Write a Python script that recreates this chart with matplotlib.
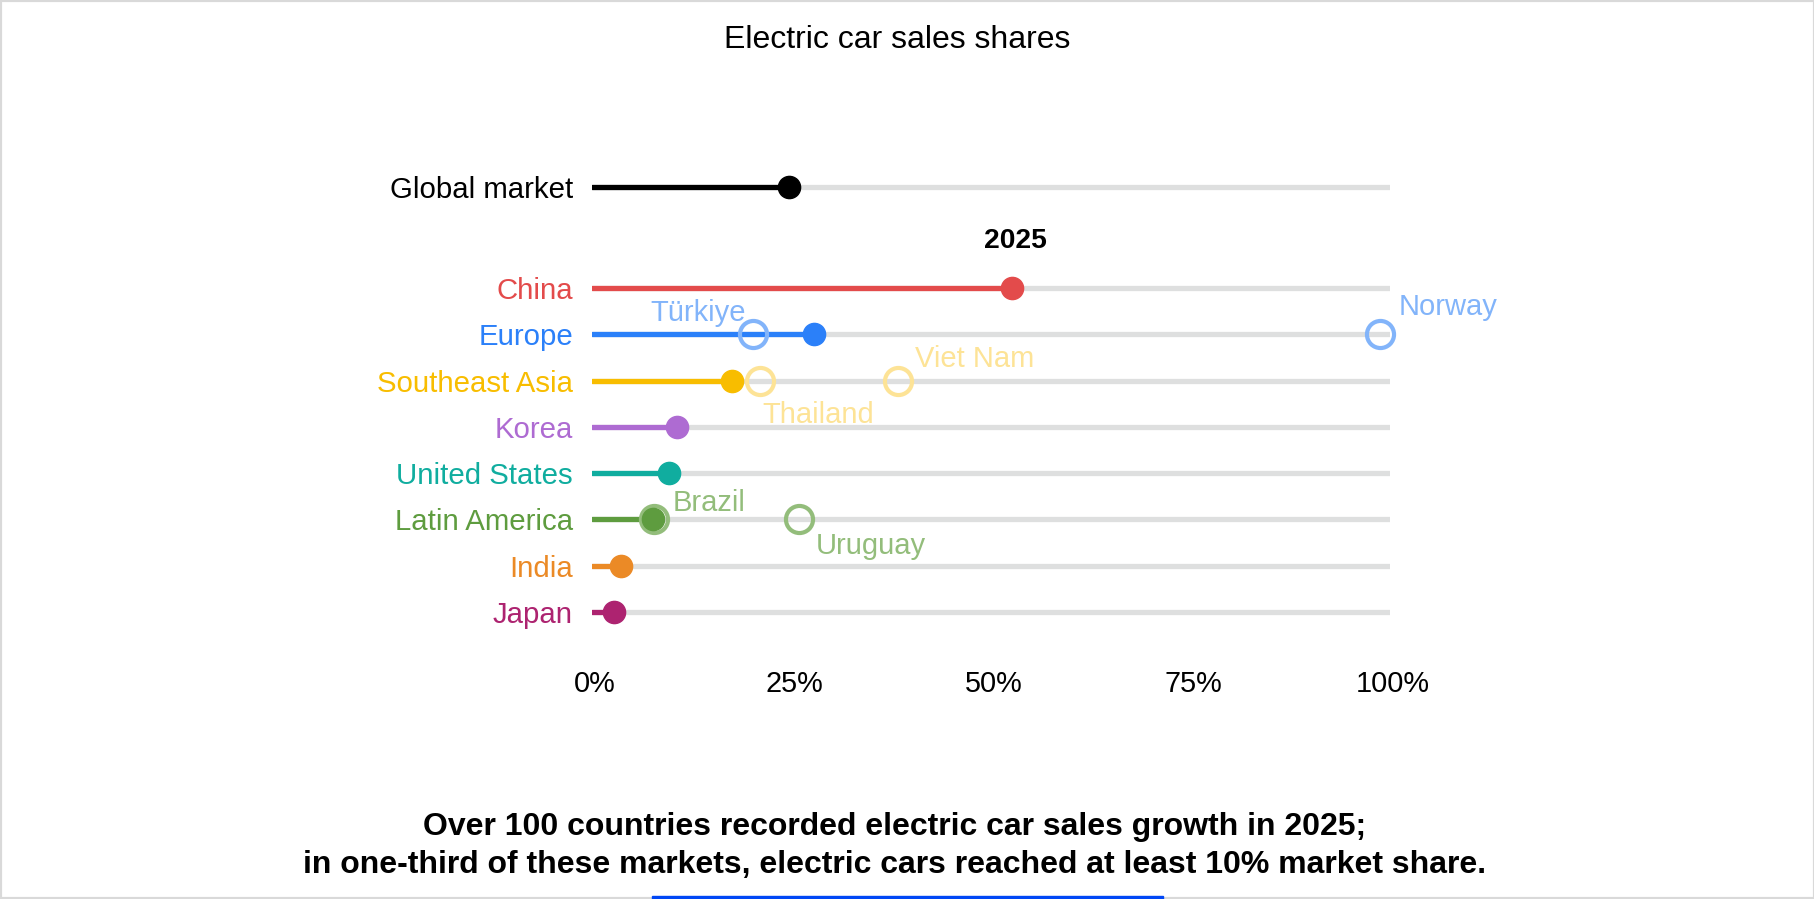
import matplotlib
matplotlib.use('Agg')
import matplotlib.pyplot as plt
from matplotlib.patches import Rectangle
import numpy as np

plt.rcParams['font.family'] = ['Liberation Sans', 'DejaVu Sans']

# data (share of electric car sales, %)
regions = ['China', 'Europe', 'Southeast Asia', 'Korea', 'United States',
           'Latin America', 'India', 'Japan']
region_share = [52.6, 27.8, 17.6, 10.7, 9.6, 7.6, 3.6, 2.7]
region_colors = ['#e34b4b', '#2b80f9', '#f8bd00', '#ae6bd2', '#10ad9f',
                 '#5e9c3f', '#eb8a26', '#ad2370']
global_share = 24.7

countries = ['Türkiye', 'Norway', 'Thailand', 'Viet Nam', 'Brazil', 'Uruguay']
country_region = ['Europe', 'Europe', 'Southeast Asia', 'Southeast Asia',
                  'Latin America', 'Latin America']
country_share = [20.2, 98.8, 21.1, 38.4, 7.8, 25.9]
country_colors = ['#82b4fa', '#82b4fa', '#fde396', '#fde396', '#93bd7b', '#93bd7b']

xticks = [0, 25, 50, 75, 100]
xticklabels = ['0%', '25%', '50%', '75%', '100%']

W, H = 1815, 899
fig = plt.figure(figsize=(W / 100, H / 100), dpi=100)

# axes placed in pixel terms
x0, x1 = 592, 1390          # 0% and 100%
row0, step = 288, 46.3      # China row and row spacing
top, bot = 150, 650
ax = fig.add_axes([x0 / W, 1 - bot / H, (x1 - x0) / W, (bot - top) / H])
ax.set_xlim(0, 100)
ax.set_ylim((bot - row0) / step, (top - row0) / step)
ax.axis('off')

ypos = np.arange(len(regions))
y_global = (187.5 - row0) / step

track = dict(color='#dedfdf', lw=3.8, solid_capstyle='round', zorder=1)
ax.plot([0, 100], [y_global, y_global], **track)
for y in ypos:
    ax.plot([0, 100], [y, y], **track)

ax.plot([0, global_share], [y_global, y_global], color='black', lw=3.8,
        solid_capstyle='round', zorder=2)
ax.plot(global_share, y_global, 'o', color='black', ms=16, zorder=4)

for y, v, c in zip(ypos, region_share, region_colors):
    ax.plot([0, v], [y, y], color=c, lw=3.8, solid_capstyle='round', zorder=2)
    ax.plot(v, y, 'o', color=c, ms=16, zorder=4)

offsets = {'Türkiye': (-7, 24.5, 'right'), 'Norway': (18, 30, 'left'),
           'Thailand': (2, -31, 'left'), 'Viet Nam': (17, 24.5, 'left'),
           'Brazil': (18, 19, 'left'), 'Uruguay': (17, -24, 'left')}
for name, reg, v, c in zip(countries, country_region, country_share, country_colors):
    y = ypos[regions.index(reg)]
    ax.plot(v, y, 'o', mfc='none', mec=c, ms=19.5, mew=3, zorder=3, clip_on=False)
    dx, dy, ha = offsets[name]
    ax.annotate(name, (v, y), xytext=(dx * 0.72, dy * 0.72), textcoords='offset points',
                ha=ha, va='center_baseline', color=c, fontsize=21)

# row labels
lab_x = (573 - x0) / (x1 - x0) * 100
ax.text(lab_x, y_global, 'Global market', ha='right', va='center_baseline',
        fontsize=21.2, color='black')
for y, name, c in zip(ypos, regions, region_colors):
    ax.text(lab_x, y, name, ha='right', va='center_baseline', fontsize=21.2, color=c)

ax.text((1015 - x0) / (x1 - x0) * 100, (238.5 - row0) / step, '2025', ha='center',
        va='center_baseline', fontsize=20.3, fontweight='bold')

ytick = (680.6 - row0) / step
for t, l in zip(xticks, xticklabels):
    ax.text(t + 0.3, ytick, l, ha='center', va='center_baseline', fontsize=20.8,
            clip_on=False)

fig.text(897 / W, 1 - 36 / H, 'Electric car sales shares', ha='center',
         va='center_baseline', fontsize=23)
fig.text(895 / W, 1 - 824 / H, 'Over 100 countries recorded electric car sales growth in 2025;',
         ha='center', va='center_baseline', fontsize=23, fontweight='bold')
fig.text(895 / W, 1 - 861 / H,
         'in one-third of these markets, electric cars reached at least 10% market share.',
         ha='center', va='center_baseline', fontsize=23, fontweight='bold')

# frame and bottom accent bar
fig.patches.append(Rectangle((0, 0), 1, 1, transform=fig.transFigure, fill=False,
                             ec='#d9d9d9', lw=3))
fig.patches.append(Rectangle((652 / W, 0), (1163 - 652) / W, 3 / H,
                             transform=fig.transFigure, color='#0047f5'))

fig.savefig('out.png', dpi=100, facecolor='white')
